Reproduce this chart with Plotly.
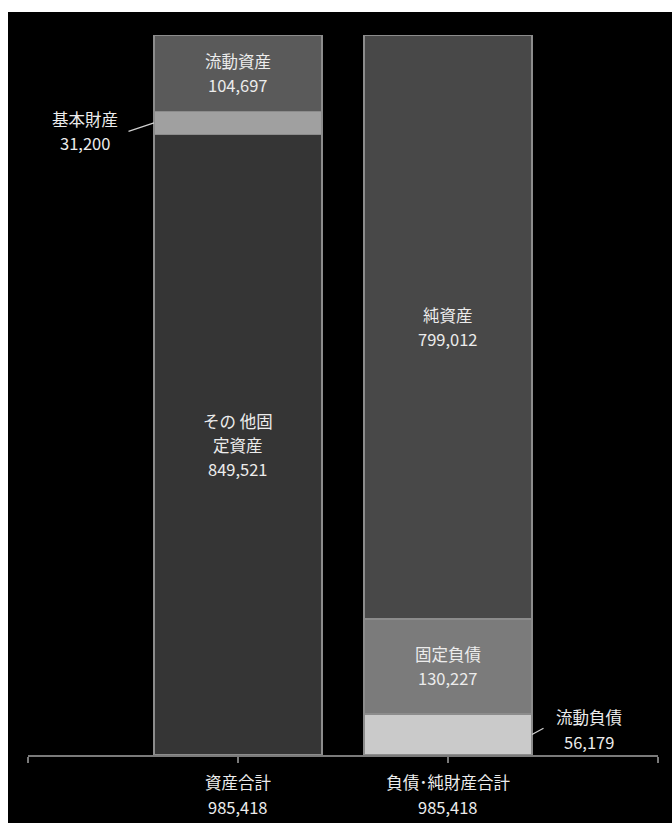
import plotly.graph_objects as go

# Balance sheet: two stacked columns (assets / liabilities + net assets)
categories = ["資産合計", "負債･純財産合計"]

# asset side, listed bottom to top
asset_names = ["その 他固<br>定資産", "基本財産", "流動資産"]
asset_values = [849521, 31200, 104697]
asset_colors = ["#353535", "#a0a0a0", "#5a5a5a"]

# liabilities / net assets side, listed bottom to top
liab_names = ["流動負債", "固定負債", "純資産"]
liab_values = [56179, 130227, 799012]
liab_colors = ["#cacaca", "#7b7b7b", "#484848"]

# segments whose labels sit outside the bar, with a leader line
outside_labels = {"基本財産", "流動負債"}

BAR_WIDTH = 0.8
LINE_GAP = 24
TEXT_COLOR = "#ececec"
FONT = "Noto Sans CJK JP"
FONT_SIZE = 16.5

fig = go.Figure()
annotations = []

columns = [
    (0, asset_names, asset_values, asset_colors),
    (1, liab_names, liab_values, liab_colors),
]

for xpos, names, values, colors in columns:
    base = 0
    for name, value, color in zip(names, values, colors):
        fig.add_trace(go.Bar(
            x=[xpos], y=[value], width=BAR_WIDTH,
            marker=dict(color=color, line=dict(color="#8c8c8c", width=1.5)),
            name=name.replace("<br>", ""), showlegend=False, hoverinfo="skip",
        ))
        mid = base + value / 2
        lines = name.split("<br>") + [f"{value:,}"]
        if name in outside_labels:
            left_side = xpos == 0
            edge = xpos - BAR_WIDTH / 2 if left_side else xpos + BAR_WIDTH / 2
            label_dx = -69 if left_side else 57
            if left_side:
                label_dy = [4, -20]
                leader = dict(ax=-27, ay=9)
            else:
                label_dy = [17, -8]
                leader = dict(ax=13, ay=-7)
            for txt, dy in zip(lines, label_dy):
                annotations.append(dict(
                    x=edge, y=mid, xref="x", yref="y", text=txt,
                    showarrow=False, xshift=label_dx, yshift=dy,
                    font=dict(family=FONT, size=FONT_SIZE, color=TEXT_COLOR),
                ))
            annotations.append(dict(
                x=edge, y=mid, xref="x", yref="y", text="",
                showarrow=True, arrowhead=0, arrowwidth=1.3,
                arrowcolor="#d0d0d0", standoff=0, startstandoff=0,
                axref="pixel", ayref="pixel", **leader,
            ))
        else:
            n = len(lines)
            for i, txt in enumerate(lines):
                dy = ((n - 1) / 2 - i) * LINE_GAP
                annotations.append(dict(
                    x=xpos, y=mid, xref="x", yref="y", text=txt,
                    showarrow=False, yshift=dy,
                    font=dict(family=FONT, size=FONT_SIZE, color=TEXT_COLOR),
                ))
        base += value

# column totals under the category labels
totals = [sum(asset_values), sum(liab_values)]
for xpos, total in enumerate(totals):
    annotations.append(dict(
        x=xpos, y=0, xref="x", yref="paper", text=f"{total:,}",
        showarrow=False, yanchor="middle", yshift=-52,
        font=dict(family=FONT, size=FONT_SIZE, color=TEXT_COLOR),
    ))

# plot area: 28..658 px horizontally, 35..755 px vertically
L, R, T, B = 28, 14, 35, 68
W, H = 672, 823
pw, ph = W - L - R, H - T - B
frame = dict(
    type="rect", xref="paper", yref="paper", layer="below",
    x0=(8 - L) / pw, x1=(W - L) / pw,
    y0=-(B) / ph, y1=(H - B - 12) / ph,
    fillcolor="black", line=dict(width=0),
)

fig.update_layout(
    width=W, height=H,
    margin=dict(l=L, r=R, t=T, b=B, pad=0),
    paper_bgcolor="white", plot_bgcolor="black",
    barmode="stack",
    shapes=[frame],
    annotations=annotations,
    xaxis=dict(
        range=[-1, 2], tickvals=[-1, 0, 1, 2],
        ticktext=[""] + categories + [""],
        showgrid=False, zeroline=False, showline=True,
        linecolor="#7a7a7a", linewidth=2,
        ticks="outside", ticklen=6, tickwidth=2, tickcolor="#7a7a7a",
        ticklabelstandoff=6,
        tickfont=dict(family=FONT, size=FONT_SIZE, color=TEXT_COLOR),
    ),
    yaxis=dict(
        range=[0, max(totals)], visible=False, showgrid=False, zeroline=False,
    ),
)

fig.write_html("out.html")
